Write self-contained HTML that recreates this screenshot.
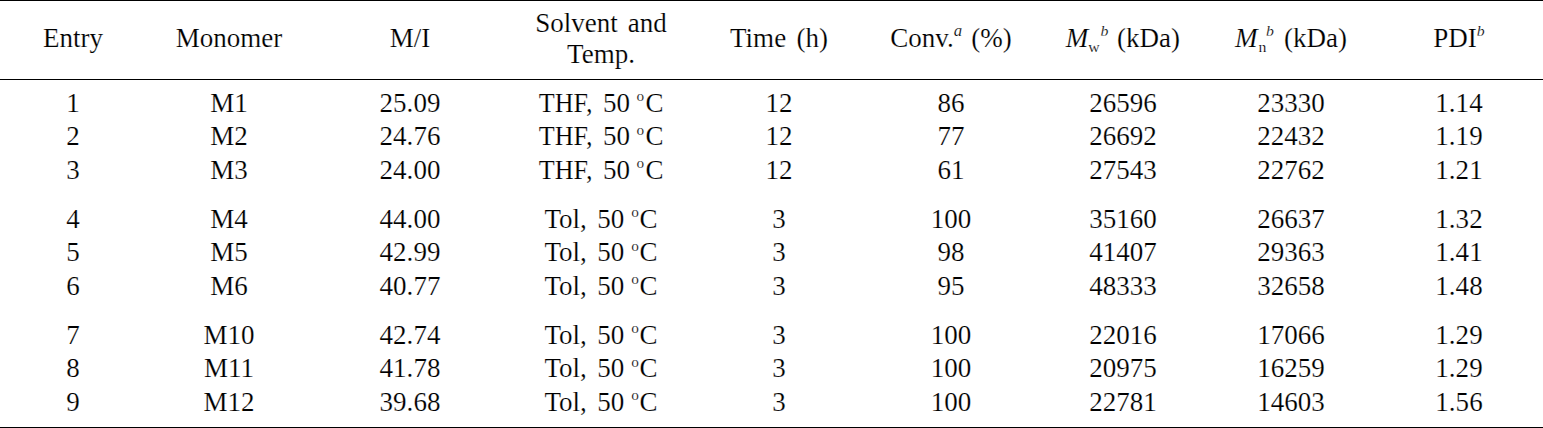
<!DOCTYPE html>
<html><head><meta charset="utf-8"><style>
html,body{margin:0;padding:0;background:#fff;}
body{width:1543px;height:428px;position:relative;overflow:hidden;font-family:"Liberation Serif",serif;font-size:26.5px;color:#000;}
.c{position:absolute;width:300px;text-align:center;line-height:30px;white-space:pre;-webkit-text-stroke:0.18px #fff;transform:scaleX(1.02);transform-origin:50% 50%;}
.l{position:absolute;left:0;width:1543px;height:1px;background:#000;}
.g{display:inline-block;}
.thf{display:inline-block;transform:scaleX(0.965);transform-origin:0 50%;margin-right:-1.9px;}
.o{font-size:15px;position:relative;top:-10.5px;}
.sup{font-size:16.5px;font-style:italic;position:relative;top:-10.6px;}
.sup2{font-size:15.5px;font-style:italic;position:relative;top:-10.8px;}
.sub{font-size:15.5px;position:relative;top:5.2px;}
</style></head><body>
<div class="l" style="top:0"></div>
<div class="l" style="top:79px"></div>
<div class="l" style="top:427px"></div>
<div class="c " style="left:-77.0px;top:22.86px;">Entry</div>
<div class="c " style="left:79.3px;top:22.86px;">Monomer</div>
<div class="c " style="left:259.5px;top:22.86px;">M/I</div>
<div class="c " style="left:450.6px;top:7.56px;">Solvent<span class=g style="width:9.80px"></span>and</div>
<div class="c " style="left:450.6px;top:38.56px;">Temp.</div>
<div class="c " style="left:628.6px;top:22.86px;">Time<span class=g style="width:10.10px"></span>(h)</div>
<div class="c " style="left:800.5px;top:22.86px;">Conv.<span class=sup>a</span><span class=g style="width:9.02px"></span>(%)</div>
<div class="c " style="left:972.5px;top:22.86px;"><i>M</i><span class=sub>w</span><span class=g style="width:0.59px"></span><span class=sup2>b</span><span class=g style="width:8.63px"></span>(kDa)</div>
<div class="c " style="left:1141.0px;top:22.86px;"><i>M</i><span class=g style="width:0.88px"></span><span class=sub>n</span><span class=sup2 style="margin-left:-0.4px">b</span><span class=g style="width:9.80px"></span>(kDa)</div>
<div class="c " style="left:1309.3px;top:22.86px;">PDI<span class=sup2>b</span></div>
<div class="c " style="left:-77.0px;top:87.56px;">1</div>
<div class="c " style="left:79.3px;top:87.56px;">M1</div>
<div class="c " style="left:259.5px;top:87.56px;">25.09</div>
<div class="c " style="left:450.6px;top:87.56px;"><span class=thf>THF,</span><span class=g style="width:10.64px"></span>50<span class=g style="width:6.27px"></span><span class=o>o</span><span class=g style="width:1.47px"></span>C</div>
<div class="c " style="left:628.6px;top:87.56px;">12</div>
<div class="c " style="left:800.5px;top:87.56px;">86</div>
<div class="c " style="left:972.5px;top:87.56px;">26596</div>
<div class="c " style="left:1141.0px;top:87.56px;">23330</div>
<div class="c " style="left:1309.3px;top:87.56px;">1.14</div>
<div class="c " style="left:-77.0px;top:121.06px;">2</div>
<div class="c " style="left:79.3px;top:121.06px;">M2</div>
<div class="c " style="left:259.5px;top:121.06px;">24.76</div>
<div class="c " style="left:450.6px;top:121.06px;"><span class=thf>THF,</span><span class=g style="width:10.64px"></span>50<span class=g style="width:6.27px"></span><span class=o>o</span><span class=g style="width:1.47px"></span>C</div>
<div class="c " style="left:628.6px;top:121.06px;">12</div>
<div class="c " style="left:800.5px;top:121.06px;">77</div>
<div class="c " style="left:972.5px;top:121.06px;">26692</div>
<div class="c " style="left:1141.0px;top:121.06px;">22432</div>
<div class="c " style="left:1309.3px;top:121.06px;">1.19</div>
<div class="c " style="left:-77.0px;top:154.66px;">3</div>
<div class="c " style="left:79.3px;top:154.66px;">M3</div>
<div class="c " style="left:259.5px;top:154.66px;">24.00</div>
<div class="c " style="left:450.6px;top:154.66px;"><span class=thf>THF,</span><span class=g style="width:10.64px"></span>50<span class=g style="width:6.27px"></span><span class=o>o</span><span class=g style="width:1.47px"></span>C</div>
<div class="c " style="left:628.6px;top:154.66px;">12</div>
<div class="c " style="left:800.5px;top:154.66px;">61</div>
<div class="c " style="left:972.5px;top:154.66px;">27543</div>
<div class="c " style="left:1141.0px;top:154.66px;">22762</div>
<div class="c " style="left:1309.3px;top:154.66px;">1.21</div>
<div class="c " style="left:-77.0px;top:203.86px;">4</div>
<div class="c " style="left:79.3px;top:203.86px;">M4</div>
<div class="c " style="left:259.5px;top:203.86px;">44.00</div>
<div class="c " style="left:450.6px;top:203.86px;">Tol,<span class=g style="width:10.29px"></span>50<span class=g style="width:6.86px"></span><span class=o>o</span><span class=g style="width:0.59px"></span>C</div>
<div class="c " style="left:628.6px;top:203.86px;">3</div>
<div class="c " style="left:800.5px;top:203.86px;">100</div>
<div class="c " style="left:972.5px;top:203.86px;">35160</div>
<div class="c " style="left:1141.0px;top:203.86px;">26637</div>
<div class="c " style="left:1309.3px;top:203.86px;">1.32</div>
<div class="c " style="left:-77.0px;top:237.16px;">5</div>
<div class="c " style="left:79.3px;top:237.16px;">M5</div>
<div class="c " style="left:259.5px;top:237.16px;">42.99</div>
<div class="c " style="left:450.6px;top:237.16px;">Tol,<span class=g style="width:10.29px"></span>50<span class=g style="width:6.86px"></span><span class=o>o</span><span class=g style="width:0.59px"></span>C</div>
<div class="c " style="left:628.6px;top:237.16px;">3</div>
<div class="c " style="left:800.5px;top:237.16px;">98</div>
<div class="c " style="left:972.5px;top:237.16px;">41407</div>
<div class="c " style="left:1141.0px;top:237.16px;">29363</div>
<div class="c " style="left:1309.3px;top:237.16px;">1.41</div>
<div class="c " style="left:-77.0px;top:270.56px;">6</div>
<div class="c " style="left:79.3px;top:270.56px;">M6</div>
<div class="c " style="left:259.5px;top:270.56px;">40.77</div>
<div class="c " style="left:450.6px;top:270.56px;">Tol,<span class=g style="width:10.29px"></span>50<span class=g style="width:6.86px"></span><span class=o>o</span><span class=g style="width:0.59px"></span>C</div>
<div class="c " style="left:628.6px;top:270.56px;">3</div>
<div class="c " style="left:800.5px;top:270.56px;">95</div>
<div class="c " style="left:972.5px;top:270.56px;">48333</div>
<div class="c " style="left:1141.0px;top:270.56px;">32658</div>
<div class="c " style="left:1309.3px;top:270.56px;">1.48</div>
<div class="c " style="left:-77.0px;top:319.86px;">7</div>
<div class="c " style="left:79.3px;top:319.86px;">M10</div>
<div class="c " style="left:259.5px;top:319.86px;">42.74</div>
<div class="c " style="left:450.6px;top:319.86px;">Tol,<span class=g style="width:10.29px"></span>50<span class=g style="width:6.86px"></span><span class=o>o</span><span class=g style="width:0.59px"></span>C</div>
<div class="c " style="left:628.6px;top:319.86px;">3</div>
<div class="c " style="left:800.5px;top:319.86px;">100</div>
<div class="c " style="left:972.5px;top:319.86px;">22016</div>
<div class="c " style="left:1141.0px;top:319.86px;">17066</div>
<div class="c " style="left:1309.3px;top:319.86px;">1.29</div>
<div class="c " style="left:-77.0px;top:353.36px;">8</div>
<div class="c " style="left:79.3px;top:353.36px;">M11</div>
<div class="c " style="left:259.5px;top:353.36px;">41.78</div>
<div class="c " style="left:450.6px;top:353.36px;">Tol,<span class=g style="width:10.29px"></span>50<span class=g style="width:6.86px"></span><span class=o>o</span><span class=g style="width:0.59px"></span>C</div>
<div class="c " style="left:628.6px;top:353.36px;">3</div>
<div class="c " style="left:800.5px;top:353.36px;">100</div>
<div class="c " style="left:972.5px;top:353.36px;">20975</div>
<div class="c " style="left:1141.0px;top:353.36px;">16259</div>
<div class="c " style="left:1309.3px;top:353.36px;">1.29</div>
<div class="c " style="left:-77.0px;top:386.86px;">9</div>
<div class="c " style="left:79.3px;top:386.86px;">M12</div>
<div class="c " style="left:259.5px;top:386.86px;">39.68</div>
<div class="c " style="left:450.6px;top:386.86px;">Tol,<span class=g style="width:10.29px"></span>50<span class=g style="width:6.86px"></span><span class=o>o</span><span class=g style="width:0.59px"></span>C</div>
<div class="c " style="left:628.6px;top:386.86px;">3</div>
<div class="c " style="left:800.5px;top:386.86px;">100</div>
<div class="c " style="left:972.5px;top:386.86px;">22781</div>
<div class="c " style="left:1141.0px;top:386.86px;">14603</div>
<div class="c " style="left:1309.3px;top:386.86px;">1.56</div>
</body></html>
